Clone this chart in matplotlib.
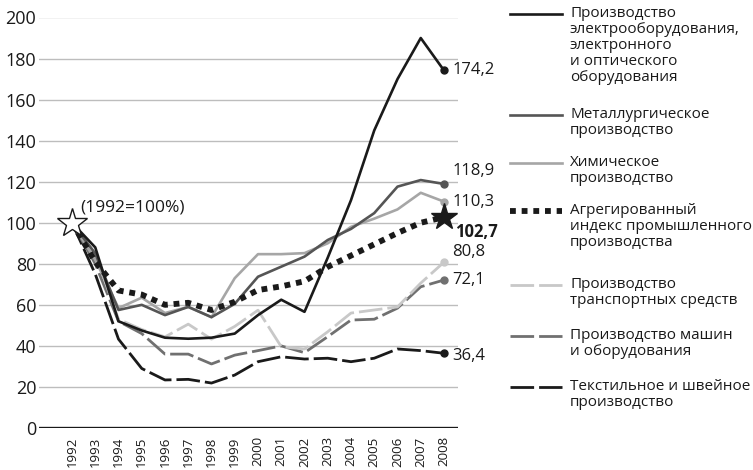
import matplotlib
matplotlib.use("Agg")
import matplotlib.pyplot as plt
from matplotlib.lines import Line2D

plt.rcParams['font.family'] = ['Open Sans', 'DejaVu Sans']

years = list(range(1992, 2009))

electrical = [100, 88, 52, 47.5, 44, 43.5, 44, 46, 55, 62.5, 56.6, 83, 111, 145, 170, 190, 174.2]
metallurgy = [100, 85, 57.5, 60, 55, 59, 54, 60.5, 73.7, 78.6, 83.5, 91.6, 97, 104.7, 117.6, 120.8, 118.9]
chemical = [100, 82, 58.4, 63.5, 56, 59, 54, 73, 84.7, 84.7, 85.2, 90, 98, 102, 106.5, 114.6, 110.3]
aggregate = [100, 81, 67, 65, 60, 61, 57.5, 61.5, 67.2, 69, 71.5, 78.5, 84, 89.5, 95, 100, 102.7]
transport = [100, 85, 53, 48, 44.4, 50.6, 43.3, 49.5, 57.4, 39.6, 38.5, 46.9, 56, 57.5, 59, 70.6, 80.8]
machinery = [100, 80, 52, 46, 36, 36, 31.2, 35.5, 37.7, 40, 36.7, 44.5, 52.6, 53, 58.4, 68.8, 72.1]
textile = [100, 75, 43.3, 29, 23.4, 23.7, 21.9, 25.8, 32.3, 34.7, 33.6, 34, 32.3, 34, 38.5, 37.7, 36.4]

legend_labels = [
    "Производство\nэлектрооборудования,\nэлектронного\nи оптического\nоборудования",
    "Металлургическое\nпроизводство",
    "Химическое\nпроизводство",
    "Агрегированный\nиндекс промышленного\nпроизводства",
    "Производство\nтранспортных средств",
    "Производство машин\nи оборудования",
    "Текстильное и швейное\nпроизводство",
]

end_labels = ["174,2", "118,9", "110,3", "102,7", "80,8", "72,1", "36,4"]

BLACK = "#1a1a1a"
DARK = "#555555"
LIGHT = "#a6a6a6"
PALE = "#c8c8c8"
MID = "#707070"

dash = (0, (8.5, 1.8))
dots = (0, (1, 1))

styles = [
    dict(color=BLACK, lw=1.9, ls="-"),
    dict(color=DARK, lw=1.9, ls="-"),
    dict(color=LIGHT, lw=1.9, ls="-"),
    dict(color=BLACK, lw=4.2, ls=dots, dash_capstyle="butt"),
    dict(color=PALE, lw=2.0, ls=dash),
    dict(color=MID, lw=2.0, ls=dash),
    dict(color=BLACK, lw=2.0, ls=dash),
]

series = [electrical, metallurgy, chemical, aggregate, transport, machinery, textile]

W, H = 753, 470
fig = plt.figure(figsize=(W / 100, H / 100), dpi=100)
ax = fig.add_axes([39 / W, (H - 428) / H, (458 - 39) / W, (428 - 17.5) / H])

ax.set_xlim(1992 - 33 / 23.25, 2008 + 14 / 23.25)
ax.set_ylim(0, 200)

for s in ax.spines.values():
    s.set_visible(False)

for v in range(20, 201, 20):
    ax.axhline(v, color="#bdbdbd", lw=1.0, zorder=1)
ax.axhline(0, color=BLACK, lw=2.4, zorder=5)

ax.set_yticks(range(0, 201, 20))
ax.set_yticklabels([str(v) for v in range(0, 201, 20)], fontsize=13, color=BLACK)
ax.set_xticks(years)
ax.set_xticklabels([str(y) for y in years], rotation=90, fontsize=9.5, color=BLACK)
ax.tick_params(axis="both", length=0)
ax.tick_params(axis="y", pad=2)
ax.tick_params(axis="x", pad=6)

# series, drawn back to front
order = [6, 5, 4, 2, 1, 3, 0]
for i in order:
    ax.plot(years, series[i], zorder=3 + (0.5 if i in (0, 3) else 0), **styles[i])

# end-point dots
dot_colors = {0: BLACK, 1: DARK, 2: LIGHT, 4: PALE, 5: MID, 6: BLACK}
for i, c in dot_colors.items():
    ax.plot(years[-1], series[i][-1], "o", color=c, ms=5, zorder=6)

# index markers: base year and final aggregate value
ax.plot(years[0], aggregate[0], marker="*", ms=22, mfc="white", mec=BLACK, mew=1.0, zorder=7)
ax.plot(years[-1], aggregate[-1], marker="*", ms=20, color=BLACK, zorder=7)
ax.annotate("(1992=100%)", (years[0], 100), xytext=(6, 5), textcoords="offset points",
            fontsize=12.5, color=BLACK, va="bottom", ha="left")

# end value labels, nudged apart where lines converge
label_offsets = [(6, 0), (6, 9), (6, 0), (8, -11), (6, 7), (6, 0), (6, -2)]
for i, txt in enumerate(end_labels):
    dx, dy = label_offsets[i]
    ax.annotate(txt, (years[-1], series[i][-1]), xytext=(dx, dy), textcoords="offset points",
                fontsize=12, color=BLACK, va="center", ha="left",
                fontweight="bold" if i == 3 else "normal")

# legend drawn in figure pixels
line_y = [14, 115, 163, 211, 285, 336, 387]
for i, lab in enumerate(legend_labels):
    y = line_y[i]
    st = dict(styles[i])
    fig.add_artist(Line2D([510 / W, 562 / W], [1 - y / H, 1 - y / H],
                          transform=fig.transFigure, **st))
    fig.text(570 / W, 1 - (y - 8) / H, lab, fontsize=11, color=BLACK, va="top", ha="left",
             linespacing=1.08)

fig.savefig("out.png", dpi=100)
